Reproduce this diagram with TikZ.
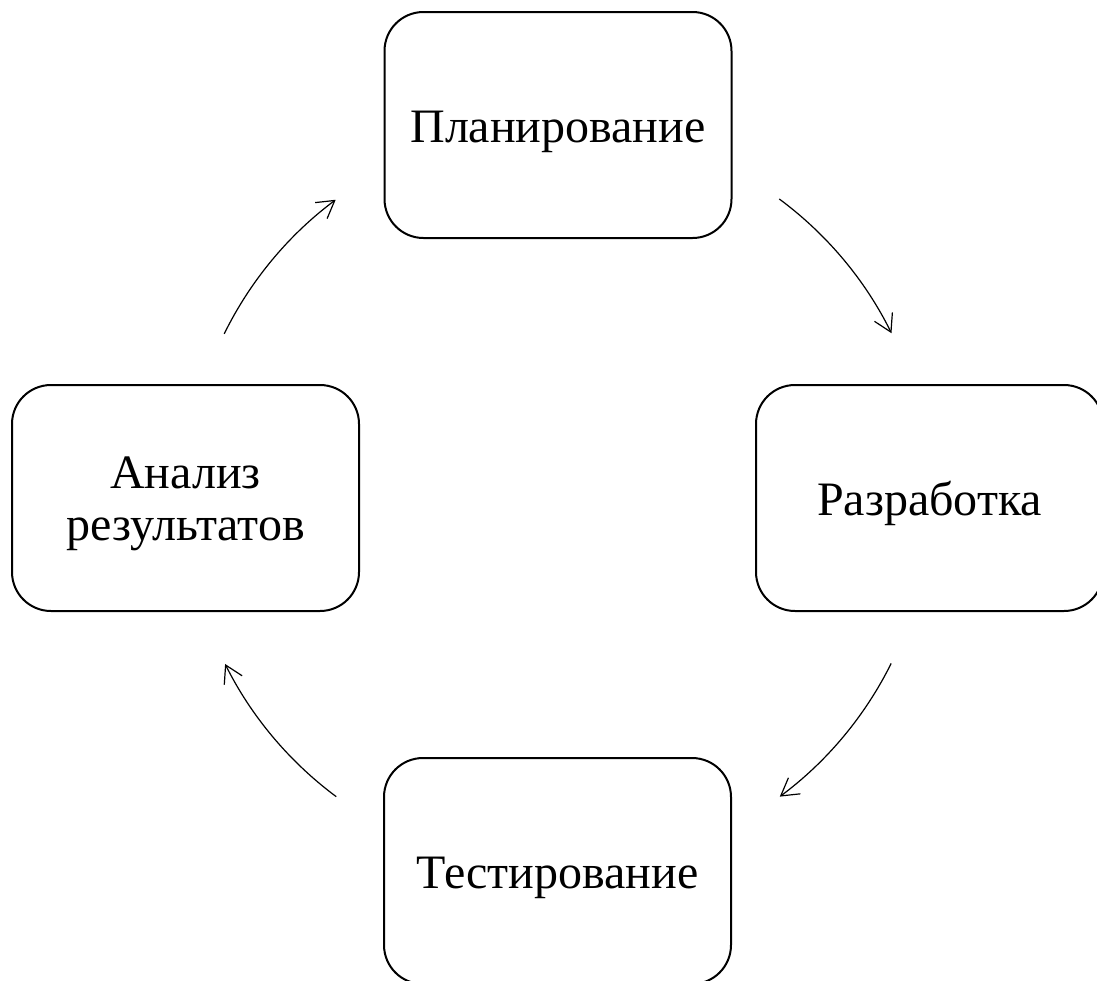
\documentclass[tikz,border=0pt]{standalone}
\usepackage{fontspec}
\setmainfont{Liberation Serif}
\usetikzlibrary{arrows.meta}
\begin{document}
\begin{tikzpicture}[x=1pt,y=1pt,
  stagebox/.style={draw, line width=2pt, rounded corners=39pt,
    minimum width=347pt, minimum height=226pt, inner sep=0pt,
    align=center, font=\fontsize{48}{52}\selectfont,
    text height=44pt, text depth=10pt},
  cyclearr/.style={line width=1.2pt, -{Straight Barb[length=17pt,width=20pt,line width=1.2pt]}}]
\useasboundingbox (0,0) rectangle (1097,-980);
\clip (0,0) rectangle (1097,-980);
\coordinate (c) at (558,-498);
\node[stagebox] (plan) at (558,-125) {Планирование};
\node[stagebox] (dev) at (929.5,-498) {Разработка};
\node[stagebox] (test) at (557.5,-871) {Тестирование};
\node[stagebox, text height=96pt, text depth=12pt] (anal) at (185.5,-498) {Анализ\\результатов};
\path (c) ++(53.5:372) coordinate (a1);
\path (c) ++(-26.4:372) coordinate (a2);
\path (c) ++(-126.6:372) coordinate (a3);
\path (c) ++(153.8:372) coordinate (a4);
\draw[cyclearr] (a1) arc[start angle=53.5, end angle=26.3, radius=372];
\draw[cyclearr] (a2) arc[start angle=-26.4, end angle=-53.4, radius=372];
\draw[cyclearr] (a3) arc[start angle=-126.6, end angle=-153.5, radius=372];
\draw[cyclearr] (a4) arc[start angle=153.8, end angle=126.7, radius=372];
\end{tikzpicture}
\end{document}
